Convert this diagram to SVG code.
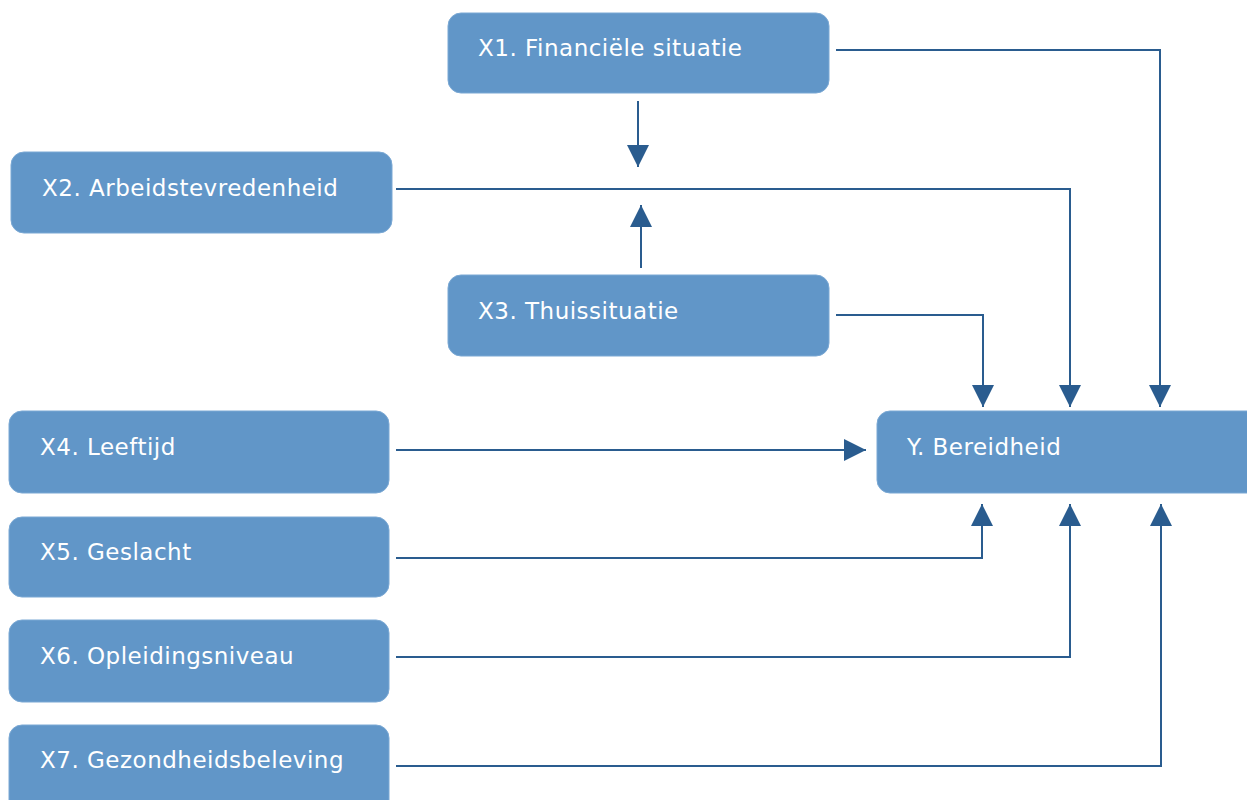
<svg xmlns="http://www.w3.org/2000/svg" width="1247" height="800" viewBox="0 0 1247 800">
<style>
.box{fill:#6196c8;stroke:#7aa8d4;stroke-width:1}
.lbl{font-family:"DejaVu Sans",Verdana,sans-serif;font-size:23px;letter-spacing:0.5px;fill:#ffffff}
.con{fill:none;stroke:#2a5c8f;stroke-width:2}
</style>
<defs>
<marker id="ah" markerUnits="userSpaceOnUse" markerWidth="22" markerHeight="22" viewBox="0 0 20 20" refX="20" refY="10" orient="auto">
<path d="M0,0 L20,10 L0,20 Z" fill="#2a5c8f"/>
</marker>
</defs>
<rect width="1247" height="800" fill="#ffffff"/>
<g id="connectors">
<path class="con" d="M836,50 H1160 V407" marker-end="url(#ah)"/>
<path class="con" d="M638,101 V167" marker-end="url(#ah)"/>
<path class="con" d="M396,189 H1070 V407" marker-end="url(#ah)"/>
<path class="con" d="M641,268 V205" marker-end="url(#ah)"/>
<path class="con" d="M836,315 H983 V407" marker-end="url(#ah)"/>
<path class="con" d="M396,450 H866" marker-end="url(#ah)"/>
<path class="con" d="M396,558 H982 V504" marker-end="url(#ah)"/>
<path class="con" d="M396,657 H1070 V504" marker-end="url(#ah)"/>
<path class="con" d="M396,766 H1161 V504" marker-end="url(#ah)"/>
</g>
<g id="x1"><rect class="box" x="448" y="13" width="381" height="80" rx="13"/><text class="lbl" x="478" y="56">X1. Financiële situatie</text></g>
<g id="x2"><rect class="box" x="11" y="152" width="381" height="81" rx="13"/><text class="lbl" x="42" y="196">X2. Arbeidstevredenheid</text></g>
<g id="x3"><rect class="box" x="448" y="275" width="381" height="81" rx="13"/><text class="lbl" x="478" y="319">X3. Thuissituatie</text></g>
<g id="x4"><rect class="box" x="9" y="411" width="380" height="82" rx="13"/><text class="lbl" x="40" y="455">X4. Leeftijd</text></g>
<g id="x5"><rect class="box" x="9" y="517" width="380" height="80" rx="13"/><text class="lbl" x="40" y="560">X5. Geslacht</text></g>
<g id="x6"><rect class="box" x="9" y="620" width="380" height="82" rx="13"/><text class="lbl" x="40" y="664">X6. Opleidingsniveau</text></g>
<g id="x7"><rect class="box" x="9" y="725" width="380" height="90" rx="13"/><text class="lbl" x="40" y="768">X7. Gezondheidsbeleving</text></g>
<g id="y"><rect class="box" x="877" y="411" width="385" height="82" rx="13"/><text class="lbl" x="907" y="455">Y. Bereidheid</text></g>
</svg>
